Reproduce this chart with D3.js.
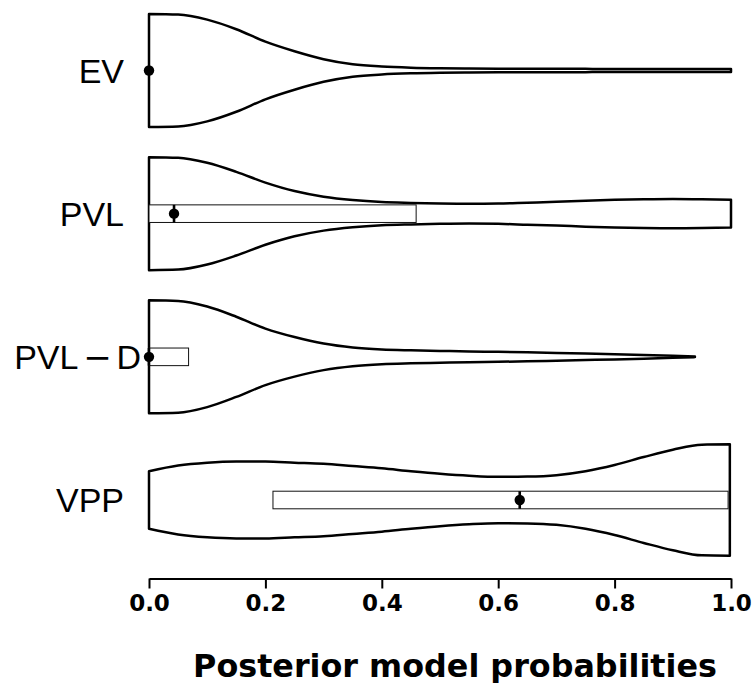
<!DOCTYPE html>
<html>
<head>
<meta charset="utf-8">
<script src="https://cdn.jsdelivr.net/npm/d3@7/dist/d3.min.js"></script>
<style>
  html, body { margin: 0; padding: 0; background: #fff; }
  svg { display: block; }
</style>
</head>
<body>
<svg id="chart" width="753" height="683"></svg>
<script>
// ---- data ----
const categories = ["EV", "PVL", "PVL\u2212D", "VPP"];
const gridX = [0, 0.05, 0.1, 0.15, 0.2, 0.25, 0.3, 0.35, 0.4, 0.45, 0.5,
               0.55, 0.6, 0.65, 0.7, 0.75, 0.8, 0.85, 0.9, 0.95, 1.0];
const evDensity = [1.0, 0.99, 0.90, 0.73, 0.51, 0.34, 0.20, 0.11, 0.07, 0.05, 0.04,
                   0.035, 0.032, 0.03, 0.03, 0.029, 0.028, 0.028, 0.027, 0.027, 0.026];
const pvlDensity = [1.0, 0.99, 0.90, 0.74, 0.55, 0.40, 0.30, 0.24, 0.205, 0.19, 0.18,
                    0.175, 0.18, 0.195, 0.21, 0.23, 0.245, 0.255, 0.26, 0.255, 0.245];
const pvldX = [0, 0.05, 0.1, 0.15, 0.2, 0.25, 0.3, 0.35, 0.4, 0.45, 0.5,
               0.55, 0.6, 0.65, 0.7, 0.75, 0.8, 0.85, 0.9, 0.938];
const pvldDensity = [1.0, 0.99, 0.89, 0.71, 0.50, 0.35, 0.235, 0.165, 0.13, 0.115, 0.105,
                     0.095, 0.088, 0.079, 0.068, 0.057, 0.046, 0.033, 0.018, 0.005];
const vppX = [0, 0.05, 0.1, 0.15, 0.2, 0.25, 0.3, 0.35, 0.4, 0.45, 0.5,
              0.55, 0.6, 0.65, 0.7, 0.75, 0.8, 0.85, 0.9, 0.95, 0.998];
const vppDensity = [0.51, 0.61, 0.66, 0.68, 0.68, 0.66, 0.64, 0.60, 0.56, 0.51, 0.465,
                    0.43, 0.41, 0.415, 0.44, 0.51, 0.62, 0.76, 0.89, 0.98, 0.985];
const medians = [0, 0.043, 0, 0.637];
const q1 = [0, 0, 0, 0.213];
const q3 = [0, 0.459, 0.068, 0.995];
const xTicks = [0, 0.2, 0.4, 0.6, 0.8, 1.0];
const xTitle = "Posterior model probabilities";

// ---- build series ----
const densities = [
  d3.zip(gridX, evDensity),
  d3.zip(gridX, pvlDensity),
  d3.zip(pvldX, pvldDensity),
  d3.zip(vppX, vppDensity)
];

const svg = d3.select("#chart");
const x = d3.scaleLinear().domain([0, 1]).range([149, 731]);
const y = d3.scalePoint().domain(categories).range([70.5, 500]);
const w = d3.scaleLinear().domain([0, 1]).range([0, 56.5]);
const boxHalf = 8.8;

categories.forEach((cat, i) => {
  const cy = y(cat);
  const g = svg.append("g");
  const area = d3.area()
    .x(d => x(d[0]))
    .y0(d => cy - w(d[1]))
    .y1(d => cy + w(d[1]))
    .curve(d3.curveMonotoneX);
  g.append("path")
    .attr("d", area(densities[i]))
    .attr("fill", "#fff")
    .attr("stroke", "#000")
    .attr("stroke-width", 2.5)
    .attr("stroke-linejoin", "round");
  if (q3[i] > q1[i]) {
    g.append("rect")
      .attr("x", x(q1[i]))
      .attr("y", cy - boxHalf)
      .attr("width", x(q3[i]) - x(q1[i]))
      .attr("height", 2 * boxHalf)
      .attr("fill", "#fff")
      .attr("stroke", "#111")
      .attr("stroke-width", 1);
    g.append("line")
      .attr("x1", x(medians[i])).attr("x2", x(medians[i]))
      .attr("y1", cy - boxHalf).attr("y2", cy + boxHalf)
      .attr("stroke", "#000").attr("stroke-width", 2.6);
  }
  g.append("circle")
    .attr("cx", x(medians[i]))
    .attr("cy", cy)
    .attr("r", 5.2)
    .attr("fill", "#000");

  // category label (right-aligned; wide minus sign like the original)
  const t = svg.append("text")
    .attr("x", 141)
    .attr("y", cy)
    .attr("dy", "0.36em")
    .attr("text-anchor", "end")
    .attr("font-family", "'Liberation Sans', Arial, sans-serif")
    .attr("font-size", 34)
    .attr("fill", "#000")
    .style("white-space", "pre");
  const parts = cat.split("\u2212");
  if (parts.length > 1) {
    t.append("tspan").text(parts[0]);
    t.append("tspan").attr("dx", "0.14em")
      .attr("font-family", "'DejaVu Sans', sans-serif").text("\u2212");
    t.append("tspan").attr("dx", "0.14em").text(parts[1]);
  } else {
    t.append("tspan").text(cat + "\u2002");
  }
});

// ---- x axis ----
const axis = d3.axisBottom(x)
  .tickValues(xTicks)
  .tickFormat(d3.format(".1f"))
  .tickSizeInner(10)
  .tickSizeOuter(0)
  .tickPadding(6);
const ax = svg.append("g")
  .attr("transform", "translate(0,578.5)")
  .call(axis);
ax.select(".domain").attr("stroke", "#000").attr("stroke-width", 2);
ax.selectAll(".tick line").attr("stroke", "#000").attr("stroke-width", 2);
ax.selectAll(".tick text")
  .attr("font-family", "'DejaVu Sans', sans-serif")
  .attr("font-weight", "bold")
  .attr("font-size", 23)
  .attr("fill", "#000")
  .attr("dy", "0.71em");

svg.append("text")
  .attr("x", 455)
  .attr("y", 677)
  .attr("text-anchor", "middle")
  .attr("font-family", "'DejaVu Sans', sans-serif")
  .attr("font-weight", "bold")
  .attr("font-size", 31.8)
  .attr("fill", "#000")
  .text(xTitle);
</script>
</body>
</html>
